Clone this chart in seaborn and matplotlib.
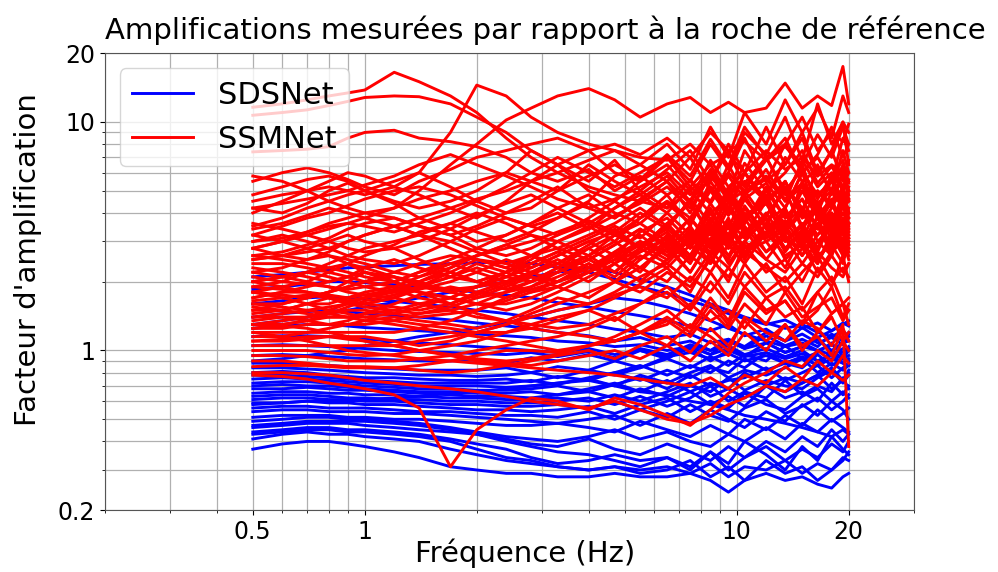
import pandas as pd
import matplotlib
matplotlib.use("Agg")
import matplotlib.pyplot as plt
from matplotlib.lines import Line2D
import seaborn as sns

# frequency samples (Hz) shared by every station curve
freqs_hz = [0.5, 0.6, 0.7, 0.8, 0.9, 1.0, 1.2, 1.4, 1.7, 2.0, 2.4, 2.8, 3.3, 4.0,
            4.7, 5.5, 6.5, 7.5, 8.5, 9.5, 10.5, 12.0, 13.5, 15.0, 16.5, 18.0, 19.3, 20.0]

# SDSNet stations, amplification
sdsnet_amp = [
    [0.37, 0.39, 0.40, 0.40, 0.39, 0.38, 0.36, 0.34, 0.31, 0.30, 0.29, 0.29, 0.28, 0.28, 0.29, 0.28, 0.28, 0.29, 0.27, 0.24, 0.27, 0.29, 0.27, 0.28, 0.26, 0.25, 0.28, 0.29],
    [0.41, 0.43, 0.44, 0.43, 0.43, 0.42, 0.41, 0.40, 0.37, 0.35, 0.33, 0.32, 0.31, 0.30, 0.31, 0.30, 0.31, 0.29, 0.32, 0.28, 0.31, 0.30, 0.33, 0.29, 0.32, 0.30, 0.34, 0.33],
    [0.44, 0.45, 0.46, 0.46, 0.45, 0.45, 0.44, 0.43, 0.41, 0.39, 0.37, 0.34, 0.32, 0.33, 0.35, 0.33, 0.34, 0.31, 0.36, 0.30, 0.34, 0.38, 0.33, 0.37, 0.34, 0.39, 0.36, 0.40],
    [0.46, 0.47, 0.48, 0.48, 0.48, 0.47, 0.46, 0.45, 0.44, 0.43, 0.41, 0.39, 0.38, 0.41, 0.37, 0.35, 0.39, 0.36, 0.33, 0.38, 0.34, 0.40, 0.36, 0.42, 0.38, 0.45, 0.40, 0.43],
    [0.49, 0.50, 0.51, 0.51, 0.50, 0.50, 0.49, 0.48, 0.46, 0.44, 0.42, 0.41, 0.40, 0.42, 0.45, 0.41, 0.44, 0.40, 0.38, 0.43, 0.40, 0.46, 0.41, 0.48, 0.44, 0.50, 0.46, 0.44],
    [0.51, 0.52, 0.52, 0.52, 0.51, 0.51, 0.50, 0.50, 0.49, 0.48, 0.47, 0.47, 0.48, 0.46, 0.44, 0.49, 0.45, 0.42, 0.47, 0.43, 0.50, 0.45, 0.52, 0.47, 0.55, 0.49, 0.53, 0.56],
    [0.54, 0.55, 0.55, 0.54, 0.54, 0.54, 0.53, 0.53, 0.52, 0.51, 0.50, 0.49, 0.48, 0.50, 0.52, 0.47, 0.53, 0.48, 0.55, 0.50, 0.46, 0.54, 0.49, 0.58, 0.52, 0.60, 0.55, 0.50],
    [0.56, 0.57, 0.57, 0.56, 0.56, 0.56, 0.55, 0.54, 0.54, 0.53, 0.52, 0.52, 0.51, 0.54, 0.50, 0.55, 0.51, 0.58, 0.52, 0.49, 0.56, 0.61, 0.53, 0.57, 0.62, 0.55, 0.60, 0.64],
    [0.59, 0.59, 0.60, 0.59, 0.59, 0.58, 0.58, 0.57, 0.56, 0.55, 0.55, 0.54, 0.55, 0.57, 0.53, 0.58, 0.62, 0.54, 0.60, 0.56, 0.65, 0.58, 0.55, 0.63, 0.68, 0.60, 0.66, 0.62],
    [0.61, 0.62, 0.62, 0.61, 0.61, 0.60, 0.60, 0.59, 0.58, 0.58, 0.57, 0.57, 0.58, 0.56, 0.60, 0.55, 0.60, 0.66, 0.58, 0.63, 0.57, 0.70, 0.62, 0.66, 0.60, 0.72, 0.64, 0.70],
    [0.63, 0.64, 0.64, 0.63, 0.62, 0.62, 0.61, 0.61, 0.60, 0.60, 0.59, 0.59, 0.60, 0.62, 0.58, 0.63, 0.57, 0.62, 0.70, 0.60, 0.66, 0.62, 0.74, 0.64, 0.70, 0.66, 0.76, 0.68],
    [0.65, 0.66, 0.66, 0.65, 0.65, 0.64, 0.64, 0.63, 0.62, 0.62, 0.61, 0.61, 0.62, 0.60, 0.64, 0.60, 0.66, 0.72, 0.63, 0.68, 0.62, 0.70, 0.66, 0.72, 0.78, 0.68, 0.74, 0.80],
    [0.68, 0.68, 0.69, 0.68, 0.67, 0.67, 0.66, 0.65, 0.64, 0.63, 0.63, 0.62, 0.64, 0.66, 0.62, 0.68, 0.63, 0.70, 0.66, 0.76, 0.67, 0.74, 0.70, 0.68, 0.76, 0.82, 0.72, 0.78],
    [0.70, 0.71, 0.70, 0.70, 0.69, 0.68, 0.67, 0.66, 0.66, 0.65, 0.65, 0.66, 0.64, 0.68, 0.72, 0.66, 0.74, 0.66, 0.72, 0.68, 0.80, 0.70, 0.76, 0.72, 0.78, 0.84, 0.74, 0.82],
    [0.72, 0.73, 0.73, 0.72, 0.71, 0.70, 0.69, 0.68, 0.68, 0.67, 0.67, 0.68, 0.70, 0.66, 0.71, 0.76, 0.68, 0.78, 0.70, 0.74, 0.76, 0.84, 0.74, 0.80, 0.86, 0.76, 0.84, 0.88],
    [0.75, 0.76, 0.75, 0.74, 0.73, 0.72, 0.71, 0.70, 0.70, 0.70, 0.69, 0.70, 0.72, 0.75, 0.70, 0.78, 0.72, 0.80, 0.86, 0.76, 0.82, 0.78, 0.84, 0.92, 0.80, 0.88, 0.82, 0.86],
    [0.78, 0.78, 0.77, 0.76, 0.75, 0.74, 0.73, 0.72, 0.72, 0.72, 0.72, 0.74, 0.71, 0.76, 0.80, 0.74, 0.82, 0.76, 0.84, 0.80, 0.92, 0.82, 0.88, 0.84, 0.96, 0.86, 0.92, 0.90],
    [0.80, 0.81, 0.80, 0.78, 0.77, 0.76, 0.76, 0.75, 0.74, 0.74, 0.75, 0.73, 0.77, 0.74, 0.80, 0.86, 0.78, 0.86, 0.80, 0.90, 0.84, 0.98, 0.88, 0.94, 0.86, 1.00, 0.92, 1.00],
    [0.84, 0.84, 0.83, 0.82, 0.81, 0.80, 0.79, 0.78, 0.78, 0.77, 0.78, 0.80, 0.76, 0.82, 0.78, 0.84, 0.92, 0.84, 0.94, 0.86, 0.96, 0.90, 1.05, 0.92, 0.98, 1.08, 0.94, 1.02],
    [0.88, 0.88, 0.87, 0.86, 0.85, 0.84, 0.83, 0.82, 0.82, 0.82, 0.84, 0.80, 0.85, 0.82, 0.90, 0.84, 0.94, 1.02, 0.90, 1.00, 0.94, 1.08, 0.98, 1.04, 1.12, 1.00, 1.08, 1.10],
    [0.95, 0.96, 0.95, 0.94, 0.93, 0.92, 0.91, 0.90, 0.90, 0.91, 0.88, 0.93, 0.90, 0.96, 0.90, 1.00, 0.92, 1.04, 0.96, 1.10, 1.02, 1.16, 1.05, 1.12, 1.04, 1.18, 1.10, 1.20],
    [1.05, 1.06, 1.05, 1.04, 1.03, 1.02, 1.00, 0.99, 0.98, 0.97, 0.96, 0.98, 0.94, 0.99, 0.93, 1.02, 0.96, 1.06, 1.00, 1.12, 1.04, 1.20, 1.10, 1.26, 1.14, 1.22, 1.32, 1.28],
    [1.15, 1.16, 1.16, 1.15, 1.14, 1.12, 1.10, 1.08, 1.06, 1.04, 1.02, 1.00, 0.98, 1.02, 0.96, 1.00, 0.94, 0.98, 0.92, 0.97, 0.90, 0.95, 0.88, 0.93, 0.86, 0.92, 0.88, 0.92],
    [1.25, 1.28, 1.30, 1.30, 1.28, 1.26, 1.24, 1.22, 1.20, 1.18, 1.16, 1.14, 1.10, 1.08, 1.04, 1.06, 1.00, 1.04, 0.96, 1.02, 0.94, 0.98, 0.92, 0.97, 0.90, 0.95, 0.88, 0.86],
    [1.40, 1.45, 1.48, 1.50, 1.48, 1.45, 1.42, 1.40, 1.36, 1.32, 1.28, 1.25, 1.20, 1.16, 1.10, 1.14, 1.05, 1.10, 1.00, 1.05, 0.96, 1.02, 0.94, 1.00, 0.90, 0.96, 0.92, 0.95],
    [1.60, 1.65, 1.70, 1.72, 1.70, 1.68, 1.64, 1.60, 1.55, 1.50, 1.45, 1.40, 1.35, 1.30, 1.24, 1.20, 1.14, 1.18, 1.08, 1.12, 1.02, 1.08, 0.98, 1.04, 1.00, 1.06, 0.98, 1.04],
    [1.85, 1.90, 1.95, 2.00, 2.00, 1.98, 1.94, 1.90, 1.85, 1.80, 1.75, 1.70, 1.62, 1.55, 1.48, 1.42, 1.35, 1.28, 1.22, 1.30, 1.16, 1.24, 1.10, 1.18, 1.08, 1.14, 1.06, 1.18],
    [2.10, 2.15, 2.20, 2.25, 2.30, 2.32, 2.35, 2.38, 2.40, 2.42, 2.45, 2.40, 2.32, 2.20, 2.05, 1.90, 1.78, 1.65, 1.55, 1.45, 1.38, 1.30, 1.36, 1.25, 1.32, 1.22, 1.30, 1.35],
    [1.30, 1.35, 1.40, 1.45, 1.50, 1.55, 1.62, 1.70, 1.80, 1.90, 2.00, 2.10, 2.20, 2.30, 2.20, 2.05, 1.90, 1.75, 1.60, 1.50, 1.40, 1.32, 1.25, 1.30, 1.20, 1.15, 1.22, 1.15],
    [0.90, 0.92, 0.95, 0.98, 1.00, 1.05, 1.10, 1.15, 1.20, 1.26, 1.32, 1.40, 1.50, 1.60, 1.70, 1.65, 1.55, 1.45, 1.35, 1.25, 1.18, 1.10, 1.04, 1.08, 1.00, 0.96, 1.02, 1.00],
    [0.58, 0.59, 0.60, 0.60, 0.60, 0.61, 0.62, 0.63, 0.65, 0.66, 0.68, 0.70, 0.72, 0.74, 0.70, 0.66, 0.64, 0.60, 0.58, 0.55, 0.52, 0.50, 0.48, 0.46, 0.44, 0.42, 0.45, 0.43],
    [0.47, 0.48, 0.49, 0.49, 0.49, 0.49, 0.48, 0.47, 0.45, 0.43, 0.40, 0.38, 0.36, 0.35, 0.33, 0.31, 0.34, 0.30, 0.36, 0.32, 0.40, 0.35, 0.30, 0.38, 0.33, 0.42, 0.37, 0.35],
    [0.43, 0.44, 0.45, 0.45, 0.44, 0.44, 0.43, 0.42, 0.40, 0.37, 0.34, 0.33, 0.31, 0.30, 0.31, 0.29, 0.30, 0.33, 0.28, 0.31, 0.27, 0.33, 0.29, 0.31, 0.27, 0.30, 0.33, 0.36],
]

# SSMNet stations, amplification
ssmnet_amp = [
    [11.6, 12.0, 12.5, 13.0, 13.4, 13.8, 16.5, 15.0, 13.0, 11.0, 8.5, 7.0, 6.0, 5.2, 4.8, 4.5, 4.2, 5.0, 4.0, 4.6, 3.8, 4.4, 3.6, 4.2, 3.5, 4.0, 3.4, 3.8],
    [4.5, 4.8, 5.0, 5.2, 5.0, 4.8, 5.2, 6.0, 9.0, 14.5, 13.0, 10.5, 9.0, 8.0, 7.5, 7.0, 6.8, 8.0, 6.5, 7.2, 6.0, 7.5, 6.2, 7.0, 5.8, 6.5, 6.0, 5.5],
    [2.8, 3.0, 3.2, 3.4, 3.6, 3.8, 4.2, 5.0, 6.5, 8.0, 10.2, 11.5, 13.0, 14.0, 12.5, 10.5, 12.0, 12.8, 11.0, 12.2, 11.0, 11.5, 14.8, 11.5, 13.0, 11.8, 17.5, 12.0],
    [10.7, 11.0, 11.3, 11.8, 12.3, 12.8, 13.0, 12.9, 12.0, 10.5, 9.0, 7.5, 6.5, 7.5, 6.0, 5.5, 6.5, 5.0, 6.0, 4.8, 5.5, 4.5, 5.2, 4.2, 5.0, 4.4, 4.8, 4.5],
    [7.4, 7.5, 7.6, 7.8, 8.5, 9.0, 9.2, 8.5, 8.2, 7.8, 7.0, 6.0, 5.5, 6.2, 5.0, 5.8, 4.8, 5.5, 4.5, 6.0, 5.0, 5.6, 4.6, 5.4, 4.4, 5.0, 6.5, 4.8],
    [5.5, 6.0, 6.3, 6.0, 5.6, 5.2, 4.8, 5.5, 6.2, 7.0, 7.5, 8.0, 8.5, 7.5, 8.0, 7.2, 8.5, 7.0, 9.0, 7.5, 8.2, 6.8, 7.8, 6.5, 8.8, 7.0, 9.5, 8.0],
    [4.8, 5.2, 5.6, 5.8, 5.5, 5.0, 4.5, 4.2, 4.5, 5.0, 6.0, 7.5, 6.5, 5.5, 6.8, 5.0, 6.2, 7.5, 5.5, 8.0, 6.0, 9.5, 6.5, 8.5, 5.8, 7.5, 10.0, 6.5],
    [4.0, 4.5, 5.0, 5.5, 6.0, 5.8, 5.2, 4.8, 4.2, 3.8, 4.5, 5.5, 6.5, 5.0, 4.5, 5.5, 7.0, 5.2, 6.5, 4.8, 7.5, 5.5, 8.0, 6.0, 7.0, 5.5, 8.5, 7.5],
    [3.5, 3.8, 4.2, 4.5, 4.8, 5.0, 5.5, 6.0, 5.2, 4.5, 4.0, 4.2, 5.0, 6.5, 5.5, 4.8, 5.8, 4.5, 6.8, 5.2, 6.0, 4.6, 7.0, 5.5, 6.2, 5.0, 7.5, 6.0],
    [3.2, 3.5, 3.8, 4.0, 4.3, 4.6, 5.0, 5.2, 4.8, 4.3, 3.8, 3.5, 3.8, 4.5, 5.8, 6.5, 5.5, 7.0, 5.0, 6.0, 8.5, 5.5, 6.5, 9.0, 6.0, 7.5, 5.5, 6.8],
    [5.8, 5.5, 5.0, 4.5, 4.2, 4.0, 3.8, 3.5, 3.2, 3.5, 4.0, 4.5, 5.2, 4.2, 3.8, 4.5, 5.5, 4.0, 6.0, 4.5, 5.0, 7.0, 4.8, 6.5, 4.2, 5.8, 4.5, 5.2],
    [4.2, 4.0, 4.4, 5.0, 5.4, 5.0, 4.4, 3.8, 3.4, 3.0, 3.2, 3.6, 4.2, 4.8, 4.0, 3.6, 4.5, 3.8, 5.2, 4.2, 6.0, 4.5, 5.5, 3.8, 5.0, 4.2, 6.2, 5.0],
    [3.0, 3.2, 3.0, 2.8, 2.6, 2.5, 2.4, 2.6, 3.0, 3.4, 3.8, 3.5, 3.2, 3.8, 4.5, 3.8, 4.8, 3.5, 5.5, 4.2, 3.6, 5.0, 3.8, 4.6, 3.4, 4.2, 5.2, 4.0],
    [2.8, 2.6, 2.5, 2.7, 3.0, 3.2, 3.5, 3.2, 2.8, 2.5, 2.4, 2.6, 2.8, 3.2, 3.6, 4.2, 3.5, 4.5, 3.2, 5.0, 3.8, 4.4, 3.2, 5.5, 4.0, 3.5, 4.6, 3.8],
    [2.5, 2.6, 2.8, 3.0, 3.2, 3.0, 2.8, 2.5, 2.2, 2.0, 2.2, 2.5, 3.0, 2.6, 3.2, 2.8, 3.6, 2.8, 4.2, 3.0, 4.8, 3.4, 4.0, 3.0, 4.4, 3.6, 3.2, 4.0],
    [2.2, 2.3, 2.5, 2.6, 2.5, 2.4, 2.2, 2.1, 2.3, 2.6, 2.9, 3.2, 2.8, 2.5, 2.9, 3.4, 2.9, 3.8, 3.0, 4.5, 3.2, 3.9, 5.0, 3.4, 4.2, 3.0, 3.8, 3.2],
    [2.0, 2.1, 2.2, 2.1, 2.0, 1.9, 1.8, 1.9, 2.1, 2.4, 2.2, 2.0, 2.3, 2.8, 2.4, 3.0, 2.6, 3.4, 2.8, 3.8, 2.7, 3.2, 4.2, 3.0, 3.6, 2.6, 4.4, 3.5],
    [1.8, 1.9, 2.0, 2.2, 2.4, 2.3, 2.1, 1.9, 1.8, 1.9, 2.1, 2.4, 2.7, 2.3, 2.6, 2.2, 3.0, 2.5, 3.5, 2.8, 4.0, 3.0, 3.4, 2.6, 3.2, 3.8, 2.8, 3.4],
    [1.7, 1.8, 1.8, 1.7, 1.6, 1.6, 1.7, 1.9, 2.2, 2.5, 2.3, 2.1, 2.0, 2.4, 2.1, 2.6, 2.3, 2.9, 2.4, 3.2, 2.6, 3.6, 2.5, 3.0, 2.4, 3.3, 2.7, 2.9],
    [1.6, 1.6, 1.7, 1.8, 1.9, 2.0, 2.1, 2.0, 1.8, 1.7, 1.8, 1.9, 2.2, 2.5, 2.2, 2.8, 3.3, 2.6, 3.8, 2.8, 3.2, 4.5, 3.0, 3.6, 2.8, 4.0, 3.2, 3.6],
    [1.5, 1.5, 1.6, 1.6, 1.7, 1.8, 1.9, 2.1, 2.4, 2.2, 2.0, 1.8, 1.9, 2.2, 2.6, 2.3, 2.8, 2.2, 3.0, 2.5, 3.5, 2.7, 3.1, 2.4, 3.0, 2.6, 3.4, 2.8],
    [1.4, 1.45, 1.5, 1.55, 1.6, 1.6, 1.55, 1.5, 1.6, 1.8, 2.0, 2.2, 2.5, 2.2, 2.7, 3.2, 2.6, 3.0, 4.0, 3.2, 4.6, 3.5, 5.5, 3.8, 4.2, 3.4, 5.0, 4.0],
    [1.35, 1.4, 1.4, 1.45, 1.5, 1.5, 1.45, 1.4, 1.45, 1.5, 1.7, 1.9, 2.1, 2.4, 2.0, 2.5, 3.0, 2.4, 3.4, 2.6, 3.0, 3.8, 2.8, 3.3, 2.5, 3.0, 3.6, 2.9],
    [1.3, 1.3, 1.35, 1.4, 1.4, 1.45, 1.5, 1.6, 1.7, 1.6, 1.5, 1.6, 1.8, 2.1, 2.4, 2.0, 2.5, 3.2, 2.4, 3.6, 2.8, 3.2, 4.0, 3.0, 3.5, 2.7, 3.1, 3.3],
    [1.25, 1.25, 1.3, 1.3, 1.3, 1.3, 1.35, 1.45, 1.55, 1.7, 1.9, 2.1, 1.9, 1.7, 2.0, 2.3, 2.0, 2.6, 2.2, 2.9, 2.4, 3.3, 2.6, 2.9, 2.2, 2.7, 3.0, 2.5],
    [1.2, 1.2, 1.2, 1.25, 1.3, 1.35, 1.4, 1.35, 1.3, 1.25, 1.35, 1.5, 1.7, 1.6, 1.8, 2.1, 2.4, 2.0, 2.7, 2.3, 3.0, 2.5, 2.2, 2.8, 2.4, 3.2, 2.6, 2.8],
    [1.15, 1.15, 1.2, 1.2, 1.2, 1.2, 1.2, 1.25, 1.35, 1.5, 1.65, 1.8, 2.0, 2.3, 2.6, 2.9, 3.4, 2.8, 3.8, 3.0, 4.3, 3.2, 3.7, 2.9, 3.5, 4.5, 3.2, 3.6],
    [1.1, 1.1, 1.12, 1.15, 1.15, 1.15, 1.1, 1.05, 1.1, 1.2, 1.3, 1.45, 1.6, 1.8, 2.0, 1.8, 2.2, 1.9, 2.5, 2.1, 2.7, 2.3, 2.0, 2.4, 2.1, 2.6, 2.2, 2.4],
    [1.05, 1.05, 1.05, 1.05, 1.05, 1.05, 1.05, 1.1, 1.15, 1.2, 1.3, 1.4, 1.5, 1.6, 1.75, 1.9, 1.7, 2.1, 1.8, 2.3, 1.9, 2.4, 1.8, 2.2, 2.6, 2.0, 2.3, 2.1],
    [2.6, 2.7, 2.9, 3.1, 3.4, 3.6, 3.8, 3.5, 3.2, 2.8, 2.6, 2.8, 3.2, 3.6, 4.2, 4.8, 4.0, 5.2, 4.4, 5.8, 4.6, 5.4, 4.2, 6.0, 4.8, 5.5, 4.4, 5.0],
    [3.6, 3.4, 3.2, 3.0, 2.8, 2.7, 2.8, 3.0, 3.4, 3.9, 4.4, 4.8, 4.2, 3.6, 3.2, 3.8, 4.4, 3.6, 5.0, 3.9, 4.8, 6.2, 4.5, 5.2, 4.0, 5.6, 4.2, 4.6],
    [2.4, 2.4, 2.3, 2.2, 2.1, 2.0, 1.9, 1.8, 1.7, 1.6, 1.6, 1.7, 1.9, 2.2, 2.6, 3.0, 2.7, 3.3, 2.9, 3.7, 3.1, 4.0, 3.0, 3.5, 2.8, 3.6, 3.0, 3.2],
    [1.9, 2.0, 2.2, 2.4, 2.6, 2.8, 3.0, 3.2, 3.0, 2.7, 2.4, 2.2, 2.0, 2.2, 2.5, 2.7, 3.1, 2.6, 3.4, 2.9, 3.8, 2.7, 3.3, 4.2, 3.0, 3.5, 2.9, 3.1],
    [1.55, 1.5, 1.45, 1.4, 1.4, 1.4, 1.45, 1.55, 1.7, 1.9, 2.1, 2.3, 2.6, 3.0, 3.3, 2.8, 3.5, 2.9, 4.0, 3.1, 3.6, 4.8, 3.3, 4.0, 3.2, 3.8, 4.4, 3.6],
    [2.0, 1.9, 1.8, 1.7, 1.6, 1.55, 1.5, 1.45, 1.5, 1.6, 1.8, 2.0, 2.3, 2.0, 2.4, 2.8, 2.4, 3.1, 2.6, 3.5, 2.7, 3.0, 2.3, 3.2, 2.6, 2.9, 3.4, 2.7],
    [1.0, 1.0, 1.0, 0.98, 0.96, 0.95, 0.96, 1.0, 1.05, 1.1, 1.2, 1.3, 1.4, 1.5, 1.35, 1.6, 1.8, 1.5, 2.0, 1.6, 2.2, 1.7, 1.9, 1.5, 1.8, 2.1, 1.6, 1.7],
    [0.95, 0.95, 0.94, 0.92, 0.9, 0.9, 0.9, 0.92, 0.95, 1.0, 1.05, 1.1, 1.15, 1.25, 1.4, 1.2, 1.3, 1.6, 1.35, 1.5, 1.25, 1.7, 1.4, 1.55, 1.2, 1.45, 1.6, 1.3],
    [0.9, 0.9, 0.88, 0.86, 0.85, 0.85, 0.84, 0.82, 0.8, 0.82, 0.86, 0.9, 0.95, 1.0, 0.92, 1.05, 1.15, 0.98, 1.25, 1.05, 1.35, 1.1, 1.3, 1.0, 1.2, 1.4, 1.1, 1.2],
    [0.85, 0.86, 0.86, 0.85, 0.84, 0.84, 0.84, 0.86, 0.9, 0.95, 1.0, 1.0, 0.98, 1.05, 1.1, 1.2, 1.05, 1.3, 1.15, 1.0, 1.4, 1.2, 1.1, 1.35, 1.25, 1.05, 1.3, 0.38],
    [0.78, 0.77, 0.75, 0.72, 0.7, 0.68, 0.64, 0.56, 0.31, 0.45, 0.55, 0.62, 0.6, 0.55, 0.62, 0.58, 0.52, 0.47, 0.55, 0.65, 0.72, 0.8, 0.9, 0.85, 1.0, 0.9, 1.1, 1.0],
    [0.8, 0.8, 0.79, 0.78, 0.76, 0.74, 0.72, 0.7, 0.68, 0.66, 0.63, 0.6, 0.58, 0.56, 0.6, 0.55, 0.5, 0.48, 0.52, 0.58, 0.62, 0.7, 0.66, 0.75, 0.7, 0.8, 0.74, 0.78],
    [1.2, 1.15, 1.1, 1.05, 1.0, 0.98, 0.95, 0.92, 0.9, 0.88, 0.86, 0.84, 0.82, 0.8, 0.78, 0.75, 0.72, 0.7, 0.76, 0.68, 0.78, 0.72, 0.85, 0.75, 0.9, 0.8, 0.95, 0.88],
    [1.3, 1.28, 1.25, 1.2, 1.15, 1.1, 1.05, 1.0, 0.95, 0.9, 0.88, 0.86, 0.9, 0.95, 1.0, 0.92, 1.05, 0.9, 1.1, 0.95, 1.2, 1.0, 1.3, 1.05, 1.15, 0.95, 1.25, 1.1],
    [1.1, 1.12, 1.15, 1.15, 1.12, 1.1, 1.05, 1.0, 0.96, 0.92, 0.9, 0.92, 0.96, 1.05, 1.15, 1.3, 1.5, 1.25, 1.7, 1.35, 1.9, 1.5, 1.65, 1.3, 1.8, 1.45, 1.6, 1.5],
    [1.6, 1.55, 1.5, 1.45, 1.4, 1.35, 1.3, 1.25, 1.2, 1.15, 1.1, 1.05, 1.0, 1.05, 1.1, 1.2, 1.35, 1.15, 1.5, 1.25, 1.6, 1.3, 1.8, 1.4, 1.55, 1.7, 1.35, 1.5],
    [1.8, 1.7, 1.6, 1.5, 1.45, 1.4, 1.35, 1.3, 1.25, 1.2, 1.2, 1.25, 1.35, 1.5, 1.7, 1.95, 2.3, 1.8, 2.6, 2.0, 2.9, 2.2, 2.5, 2.0, 2.7, 2.3, 2.1, 2.4],
    [2.2, 2.1, 2.0, 1.9, 1.8, 1.75, 1.7, 1.6, 1.5, 1.4, 1.35, 1.3, 1.25, 1.3, 1.45, 1.6, 1.9, 1.55, 2.2, 1.7, 2.4, 1.8, 2.1, 1.6, 2.3, 1.9, 2.6, 2.0],
    [3.2, 3.0, 2.8, 2.6, 2.4, 2.2, 2.0, 1.8, 1.6, 1.45, 1.35, 1.25, 1.2, 1.15, 1.1, 1.2, 1.4, 1.2, 1.6, 1.3, 1.8, 1.45, 1.65, 1.3, 1.5, 1.9, 1.4, 1.6],
    [2.5, 2.6, 2.7, 2.8, 3.0, 3.2, 3.5, 3.8, 4.2, 4.6, 5.0, 5.5, 6.0, 6.8, 7.5, 6.5, 8.0, 6.2, 9.5, 7.0, 11.0, 8.0, 12.5, 9.0, 11.5, 8.5, 13.0, 11.0],
    [3.0, 3.1, 3.3, 3.5, 3.6, 3.5, 3.3, 3.6, 4.0, 4.5, 5.2, 6.0, 7.0, 6.0, 5.2, 6.0, 7.0, 5.5, 8.0, 6.2, 9.0, 7.2, 10.5, 6.8, 12.0, 8.0, 10.0, 9.0],
    [4.2, 4.4, 4.6, 4.8, 5.0, 5.3, 5.8, 6.5, 7.2, 6.5, 5.8, 5.2, 4.6, 4.2, 4.6, 5.2, 6.0, 4.8, 5.5, 7.5, 5.2, 6.8, 8.5, 6.0, 7.2, 9.5, 7.0, 8.0],
    [1.5, 1.6, 1.7, 1.8, 1.9, 2.0, 2.2, 2.4, 2.6, 2.5, 2.3, 2.6, 3.0, 3.5, 3.0, 3.8, 4.5, 3.6, 5.2, 4.0, 6.0, 4.4, 5.5, 4.0, 6.5, 4.8, 5.8, 5.0],
    [1.8, 1.75, 1.7, 1.8, 2.0, 2.2, 2.0, 1.8, 1.7, 1.9, 2.2, 2.6, 2.4, 2.9, 3.4, 2.8, 3.6, 4.4, 3.2, 4.8, 3.6, 5.2, 3.8, 4.6, 3.4, 5.0, 4.2, 4.5],
    [1.45, 1.5, 1.6, 1.7, 1.65, 1.6, 1.7, 1.85, 2.0, 2.2, 2.5, 2.3, 2.6, 3.0, 2.6, 3.3, 3.8, 3.0, 4.4, 3.4, 5.0, 3.7, 4.2, 6.0, 3.9, 4.6, 3.5, 4.2],
    [1.3, 1.35, 1.4, 1.5, 1.6, 1.7, 1.85, 1.7, 1.6, 1.75, 1.95, 2.15, 2.4, 2.8, 3.2, 3.6, 3.0, 3.8, 2.9, 4.2, 3.3, 3.9, 5.0, 3.5, 4.5, 3.2, 4.0, 3.6],
    [2.3, 2.2, 2.1, 2.0, 2.1, 2.3, 2.5, 2.3, 2.1, 2.0, 2.2, 2.4, 2.7, 3.1, 3.5, 3.1, 4.0, 3.2, 3.6, 5.0, 3.8, 4.6, 3.4, 5.4, 4.2, 3.6, 4.8, 4.0],
    [1.65, 1.7, 1.75, 1.7, 1.65, 1.7, 1.8, 2.0, 2.3, 2.6, 2.9, 2.6, 2.3, 2.6, 3.0, 2.5, 3.2, 2.6, 3.6, 2.9, 4.2, 3.1, 3.5, 2.8, 3.9, 3.3, 4.4, 3.4],
    [1.25, 1.3, 1.35, 1.45, 1.55, 1.65, 1.75, 1.9, 2.1, 2.3, 2.1, 2.0, 2.2, 2.6, 2.2, 2.7, 3.1, 2.5, 3.3, 2.4, 3.0, 3.8, 2.7, 3.4, 2.5, 3.1, 2.8, 3.0],
    [2.0, 2.1, 2.2, 2.3, 2.2, 2.1, 2.0, 2.2, 2.5, 2.8, 3.2, 3.6, 4.0, 3.4, 4.2, 5.0, 4.2, 5.6, 4.4, 6.5, 4.8, 5.8, 4.5, 6.8, 5.2, 6.0, 5.0, 5.6],
    [2.6, 2.5, 2.4, 2.3, 2.4, 2.6, 2.9, 3.3, 3.6, 3.3, 3.0, 3.3, 3.8, 4.4, 3.8, 4.6, 5.5, 4.4, 6.2, 4.8, 5.4, 7.0, 5.0, 6.2, 4.6, 5.8, 6.8, 5.4],
    [1.9, 1.85, 1.8, 1.75, 1.7, 1.75, 1.85, 2.0, 2.2, 2.0, 1.85, 2.0, 2.2, 2.5, 2.9, 3.4, 2.8, 3.5, 2.6, 3.2, 2.5, 3.6, 2.8, 3.3, 2.7, 3.7, 3.0, 2.6],
    [3.4, 3.6, 3.9, 4.2, 4.0, 3.8, 3.5, 3.2, 3.6, 4.0, 3.6, 3.2, 3.0, 3.4, 3.9, 4.4, 5.2, 4.2, 5.8, 4.6, 6.6, 5.0, 6.0, 7.5, 5.4, 6.4, 5.2, 6.0],
    [1.4, 1.4, 1.35, 1.3, 1.35, 1.45, 1.6, 1.75, 1.9, 1.8, 1.7, 1.85, 2.0, 2.3, 2.7, 2.3, 2.9, 2.2, 3.1, 2.6, 3.4, 2.5, 3.2, 2.6, 3.6, 2.9, 2.4, 3.0],
    [2.8, 3.0, 3.3, 3.6, 3.8, 4.0, 4.2, 4.6, 5.0, 5.5, 6.0, 5.5, 5.0, 5.8, 6.5, 5.6, 7.2, 5.8, 8.4, 6.4, 9.5, 7.0, 8.0, 10.5, 7.5, 9.0, 8.2, 9.8],
    [1.7, 1.8, 1.9, 2.0, 2.1, 2.2, 2.1, 1.95, 1.85, 1.9, 2.0, 2.2, 2.4, 2.2, 2.5, 2.9, 2.5, 3.2, 2.7, 3.6, 2.8, 3.3, 4.1, 3.0, 3.8, 2.8, 3.5, 3.1],
    [2.1, 2.0, 1.95, 1.9, 1.85, 1.9, 2.0, 2.2, 2.4, 2.6, 2.8, 3.0, 3.3, 3.7, 3.3, 4.0, 3.4, 4.6, 3.6, 5.2, 3.9, 4.5, 3.5, 5.0, 3.8, 4.4, 6.0, 4.6],
]

x_ticks = [0.5, 1, 10, 20]
x_tick_labels = ["0.5", "1", "10", "20"]
y_ticks = [0.2, 1, 10, 20]
y_tick_labels = ["0.2", "1", "10", "20"]


def to_long(curves, network):
    rows = []
    for station, values in enumerate(curves):
        assert len(values) == len(freqs_hz), (network, station, len(values))
        for f, v in zip(freqs_hz, values):
            rows.append({"network": network, "station": station, "freq": f, "amp": v})
    return pd.DataFrame(rows)


sds_df = to_long(sdsnet_amp, "SDSNet")
ssm_df = to_long(ssmnet_amp, "SSMNet")

plt.rcParams["font.family"] = ["DejaVu Sans"]

fig = plt.figure(figsize=(9.98, 5.72), dpi=100)
ax = fig.add_axes([0.105, 0.108, 0.811, 0.799])

sns.lineplot(data=sds_df, x="freq", y="amp", units="station", estimator=None,
             color="blue", linewidth=2.1, ax=ax, legend=False)
sns.lineplot(data=ssm_df, x="freq", y="amp", units="station", estimator=None,
             color="red", linewidth=2.1, ax=ax, legend=False)

ax.set_xscale("log")
ax.set_yscale("log")
ax.set_xlim(0.2, 30)
ax.set_ylim(0.2, 20)
ax.set_xticks(x_ticks)
ax.set_xticklabels(x_tick_labels)
ax.set_yticks(y_ticks)
ax.set_yticklabels(y_tick_labels)
ax.tick_params(axis="both", which="major", labelsize=17)
ax.grid(True, which="both", color="#b0b0b0", linewidth=0.9)
ax.set_axisbelow(True)
for spine in ax.spines.values():
    spine.set_color("#555555")

ax.set_xlabel("Fréquence (Hz)", fontsize=21)
ax.xaxis.set_label_coords(0.519, -0.062)
ax.set_ylabel("Facteur d'amplification", fontsize=21)
ax.yaxis.set_label_coords(-0.078, 0.549)
ax.set_title("Amplifications mesurées par rapport à la roche de référence",
             fontsize=21, loc="left", pad=10)

handles = [Line2D([0], [0], color="blue", lw=2.1), Line2D([0], [0], color="red", lw=2.1)]
ax.legend(handles, ["SDSNet", "SSMNet"], loc="upper left", fontsize=22, framealpha=0.8)

fig.savefig("out.png", dpi=100)
